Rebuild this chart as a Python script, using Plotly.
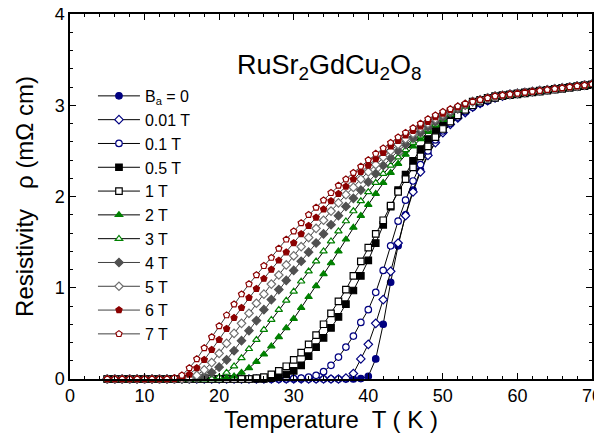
import plotly.graph_objects as go

T = list(range(5, 71))

tail_common = [3.04, 3.06, 3.08, 3.10, 3.11, 3.12, 3.13, 3.14, 3.15, 3.16, 3.17, 3.18, 3.19, 3.20, 3.21, 3.22, 3.23]  # T = 54..70
tail_navy = [2.98, 3.02, 3.05, 3.08, 3.10, 3.12, 3.13, 3.14, 3.15, 3.16, 3.17, 3.18, 3.19, 3.20, 3.21, 3.22, 3.23]  # T = 54..70

# T = 5..53
rho_0 = [0, 0, 0, 0, 0, 0, 0, 0, 0, 0, 0, 0, 0, 0, 0, 0, 0, 0, 0, 0, 0, 0, 0, 0, 0, 0, 0, 0, 0, 0, 0, 0, 0, 0, 0.005,
         0.03, 0.22, 0.60, 1.06, 1.46, 1.80, 2.07, 2.29, 2.46, 2.60, 2.71, 2.80, 2.87, 2.93] + tail_navy
rho_001 = [0, 0, 0, 0, 0, 0, 0, 0, 0, 0, 0, 0, 0, 0, 0, 0, 0, 0, 0, 0, 0, 0, 0, 0, 0, 0, 0, 0, 0, 0, 0, 0, 0.01, 0.06,
           0.22, 0.38, 0.61, 0.87, 1.18, 1.49, 1.79, 2.05, 2.27, 2.45, 2.59, 2.70, 2.79, 2.86, 2.92] + tail_navy
rho_01 = [0, 0, 0, 0, 0, 0, 0, 0, 0, 0, 0, 0, 0, 0, 0, 0, 0, 0, 0, 0, 0, 0, 0, 0, 0, 0.005, 0.01, 0.02, 0.04, 0.08,
          0.15, 0.24, 0.35, 0.47, 0.62, 0.76, 0.95, 1.19, 1.46, 1.73, 1.96, 2.17, 2.35, 2.50, 2.62, 2.72, 2.80, 2.87, 2.93] + tail_navy
rho_05 = [0, 0, 0, 0, 0, 0, 0, 0, 0, 0, 0, 0, 0, 0, 0, 0, 0, 0, 0, 0, 0, 0, 0.01, 0.02, 0.05, 0.09,
          0.15, 0.25, 0.35, 0.45, 0.56, 0.68, 0.82, 0.97, 1.13, 1.30, 1.49, 1.69, 1.89, 2.07, 2.24, 2.39, 2.52, 2.63,
          2.73, 2.81, 2.88, 2.94, 2.99] + tail_common
rho_1 = [0, 0, 0, 0, 0, 0, 0, 0, 0, 0, 0, 0, 0, 0, 0, 0, 0, 0, 0, 0, 0.01, 0.02, 0.05, 0.09, 0.14, 0.21,
         0.29, 0.38, 0.48, 0.60, 0.72, 0.85, 0.98, 1.13, 1.29, 1.44, 1.59, 1.74, 1.90, 2.05, 2.19, 2.32, 2.44, 2.55,
         2.65, 2.74, 2.82, 2.89, 2.95, 3.00] + tail_common
rho_2 = [0, 0, 0, 0, 0, 0, 0, 0, 0, 0, 0, 0, 0, 0, 0, 0, 0.01, 0.03, 0.07, 0.12, 0.19, 0.27, 0.36, 0.46, 0.56,
         0.66, 0.78, 0.90, 1.02, 1.15, 1.27, 1.40, 1.53, 1.66, 1.79, 1.91, 2.03, 2.15, 2.26, 2.36, 2.46, 2.55, 2.63,
         2.71, 2.78, 2.84, 2.90, 2.95, 2.99] + tail_common
rho_3 = [0, 0, 0, 0, 0, 0, 0, 0, 0, 0, 0, 0, 0, 0, 0.005, 0.02, 0.07, 0.14, 0.23, 0.33, 0.43, 0.54, 0.65, 0.76, 0.86,
         0.96, 1.07, 1.18, 1.29, 1.40, 1.51, 1.62, 1.73, 1.84, 1.95, 2.05, 2.15, 2.25, 2.34, 2.43, 2.51, 2.59, 2.66,
         2.73, 2.79, 2.85, 2.90, 2.95, 2.99] + tail_common
rho_4 = [0, 0, 0, 0, 0, 0, 0, 0, 0, 0, 0, 0, 0.01, 0.03, 0.07, 0.13, 0.21, 0.31, 0.42, 0.53, 0.64, 0.76, 0.87, 0.98, 1.08,
         1.19, 1.29, 1.39, 1.49, 1.59, 1.69, 1.79, 1.89, 1.98, 2.07, 2.16, 2.25, 2.34, 2.42, 2.50, 2.57, 2.64, 2.70,
         2.76, 2.82, 2.87, 2.92, 2.96, 3.00] + tail_common
rho_5 = [0, 0, 0, 0, 0, 0, 0, 0, 0, 0, 0, 0.01, 0.04, 0.10, 0.18, 0.28, 0.39, 0.50, 0.61, 0.72, 0.83, 0.93, 1.04, 1.14, 1.25,
         1.35, 1.45, 1.55, 1.65, 1.74, 1.84, 1.93, 2.02, 2.10, 2.19, 2.27, 2.35, 2.43, 2.50, 2.57, 2.63, 2.69, 2.75,
         2.80, 2.85, 2.90, 2.94, 2.98, 3.01] + tail_common
rho_6 = [0, 0, 0, 0, 0, 0, 0, 0, 0, 0, 0.01, 0.05, 0.12, 0.21, 0.32, 0.43, 0.55, 0.67, 0.78, 0.89, 0.99, 1.10, 1.20, 1.30, 1.39,
         1.49, 1.59, 1.68, 1.77, 1.86, 1.95, 2.03, 2.11, 2.19, 2.27, 2.34, 2.41, 2.48, 2.55, 2.61, 2.67, 2.72, 2.77,
         2.82, 2.87, 2.91, 2.95, 2.98, 3.01] + tail_common
rho_7 = [0, 0, 0, 0, 0, 0, 0, 0, 0, 0.01, 0.04, 0.12, 0.22, 0.34, 0.46, 0.58, 0.70, 0.82, 0.93, 1.04, 1.14, 1.24, 1.33, 1.43, 1.53,
         1.62, 1.71, 1.80, 1.88, 1.96, 2.04, 2.12, 2.19, 2.26, 2.33, 2.40, 2.47, 2.53, 2.59, 2.65, 2.70, 2.75, 2.80,
         2.85, 2.89, 2.93, 2.96, 2.99, 3.02] + tail_common

labels = ["B<sub>a</sub> = 0", "0.01 T", "0.1 T", "0.5 T", "1 T", "2 T", "3 T", "4 T", "5 T", "6 T", "7 T"]
series = [rho_0, rho_001, rho_01, rho_05, rho_1, rho_2, rho_3, rho_4, rho_5, rho_6, rho_7]

NAVY = "#000080"
GREEN = "#008000"
DGRAY = "#505050"
GRAY = "#707070"
DRED = "#8B0000"
styles = [
    dict(symbol="circle", fill=NAVY, edge=NAVY, line="black"),
    dict(symbol="diamond", fill="white", edge=NAVY, line="black"),
    dict(symbol="circle", fill="white", edge=NAVY, line="black"),
    dict(symbol="square", fill="black", edge="black", line="black"),
    dict(symbol="square", fill="white", edge="black", line="black"),
    dict(symbol="triangle-up", fill=GREEN, edge=GREEN, line="black"),
    dict(symbol="triangle-up", fill="white", edge=GREEN, line="black"),
    dict(symbol="diamond", fill=DGRAY, edge=DGRAY, line="#404040"),
    dict(symbol="diamond", fill="white", edge=GRAY, line="#404040"),
    dict(symbol="pentagon", fill=DRED, edge=DRED, line="#404040"),
    dict(symbol="pentagon", fill="white", edge=DRED, line="#404040"),
]

fig = go.Figure()
for lab, ys, st in zip(labels, series, styles):
    fig.add_trace(go.Scatter(
        x=T, y=ys, name=lab, mode="lines+markers", cliponaxis=False,
        line=dict(color=st["line"], width=1),
        marker=dict(symbol=st["symbol"], size=6.5, color=st["fill"],
                    line=dict(color=st["edge"], width=1.2)),
    ))

axis_common = dict(showline=True, linecolor="black", linewidth=1.5, mirror="ticks",
                   ticks="inside", ticklen=6, tickwidth=1.2, tickcolor="black", automargin=False,
                   ticklabeloverflow="allow",
                   showgrid=False, zeroline=False, tickfont=dict(size=18, color="black"))

# The page body has an 8 px default margin, so the figure is 8 px smaller than the window.
fig.update_layout(
    width=594, height=435,
    margin=dict(l=62, r=10, t=6, b=64),
    paper_bgcolor="white", plot_bgcolor="white",
    font=dict(family="Liberation Sans, Arial, sans-serif", color="black"),
    showlegend=True,
    legend=dict(x=0.044, y=0.822, xanchor="left", yanchor="top", bgcolor="rgba(0,0,0,0)",
                font=dict(size=16), itemwidth=42, tracegroupgap=0),
    xaxis=dict(range=[0, 70], dtick=10, minor=dict(dtick=2, ticks="inside", ticklen=3, tickcolor="black"),
               title=dict(text="Temperature  T ( K )", font=dict(size=24), standoff=4), **axis_common),
    yaxis=dict(range=[0, 4], dtick=1, minor=dict(dtick=0.2, ticks="inside", ticklen=3, tickcolor="black"),
               title=dict(text="Resistivity   ρ (mΩ cm)", font=dict(size=24), standoff=14), **axis_common),
    annotations=[dict(text="RuSr<sub>2</sub>GdCu<sub>2</sub>O<sub>8</sub>", x=0.498, y=0.855,
                      xref="paper", yref="paper", xanchor="center", yanchor="middle",
                      showarrow=False, font=dict(size=27, color="black"))],
)

fig.write_html("out.html")
